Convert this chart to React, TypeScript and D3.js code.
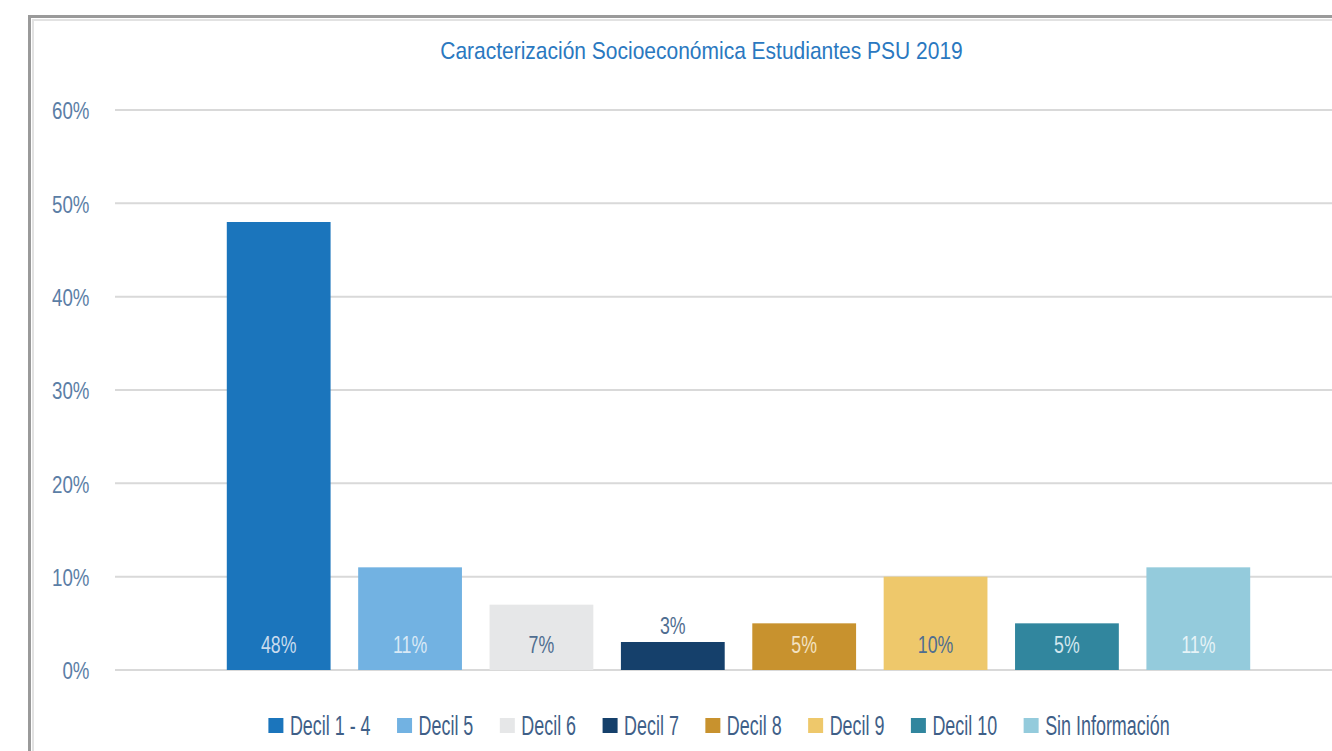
import * as d3 from 'd3';
import { useEffect, useRef } from 'react';

const categories = ['Decil 1 - 4', 'Decil 5', 'Decil 6', 'Decil 7', 'Decil 8', 'Decil 9', 'Decil 10', 'Sin Información'];
const values = [48, 11, 7, 3, 5, 10, 5, 11];
const barColors = ['#1b75bc', '#72b2e2', '#e6e7e8', '#15406b', '#c8922e', '#eec86b', '#31869e', '#94cbdc'];
const labelColors = ['#c9dcee', '#d9e9f6', '#4f6d90', '#4f6d90', '#f3e2c2', '#4f6d90', '#d3e7ee', '#e6f3f7'];
const yTicks = [0, 10, 20, 30, 40, 50, 60];
const title = 'Caracterización Socioeconómica Estudiantes PSU 2019';

const W = 1332;
const H = 751;
const FONT = '"Liberation Sans", Arial, sans-serif';

type Sel = d3.Selection<SVGGElement, unknown, null, undefined>;

// condensed text: glyphs squeezed horizontally around the anchor point
function ctext(parent: Sel, x: number, y: number, s: string, size: number, fill: string, anchor: string, sx: number) {
    const g = parent.append('g').attr('transform', `translate(${x},${y}) scale(${sx},1)`);
    const t = g.append('text').attr('dy', '0.35em').attr('text-anchor', anchor)
        .attr('font-family', FONT).attr('font-size', size).attr('fill', fill).text(s);
    return (t.node() as SVGTextElement).getComputedTextLength() * sx;
}

export default function App() {
    const ref = useRef<SVGSVGElement>(null);

    useEffect(() => {
        const svg = d3.select(ref.current);
        svg.selectAll('*').remove();
        const root = svg.append('g') as unknown as Sel;

        const x = d3.scaleBand<string>().domain(categories).range([213, 1264]).paddingInner(0.21).paddingOuter(0.105);
        const y = d3.scaleLinear().domain([0, 60]).range([670, 110]);

        // frame
        root.append('rect').attr('x', 29.5).attr('y', 16.5).attr('width', W).attr('height', H)
            .attr('fill', 'none').attr('stroke', '#9a9a9a').attr('stroke-width', 3);
        root.append('rect').attr('x', 33).attr('y', 20).attr('width', W).attr('height', H)
            .attr('fill', 'none').attr('stroke', '#e2e2e2').attr('stroke-width', 2);

        ctext(root, 701.5, 51, title, 24, '#2a78c0', 'middle', 0.875);

        // grid + y labels
        root.selectAll('line.grid').data(yTicks).join('line')
            .attr('x1', 115).attr('x2', W)
            .attr('y1', (d) => y(d)).attr('y2', (d) => y(d))
            .attr('stroke', '#d9d9d9').attr('stroke-width', 2);
        yTicks.forEach((d) => ctext(root, 89.5, y(d) + 1, `${d}%`, 24, '#5b7ea6', 'end', 0.78));

        // bars
        root.selectAll('rect.bar').data(values).join('rect')
            .attr('x', (_, i) => x(categories[i])!)
            .attr('y', (d) => y(d))
            .attr('width', x.bandwidth())
            .attr('height', (d) => y(0) - y(d))
            .attr('fill', (_, i) => barColors[i]);

        values.forEach((d, i) => {
            const cx = x(categories[i])! + x.bandwidth() / 2;
            const cy = d < 4 ? y(d) - 16 : 645;
            ctext(root, cx, cy, `${d}%`, 24, labelColors[i], 'middle', 0.74);
        });

        // legend
        const leg = root.append('g') as unknown as Sel;
        let cx = 0;
        const items: { x: number; el: Sel }[] = [];
        categories.forEach((c, i) => {
            const it = leg.append('g') as unknown as Sel;
            it.append('rect').attr('x', 0).attr('y', -7).attr('width', 15).attr('height', 15).attr('fill', barColors[i]);
            const w = ctext(it, 21.5, 0, c, 28, '#3f5f88', 'start', 0.64);
            items.push({ x: cx, el: it });
            cx += 21.5 + w + 26.5;
        });
        const total = cx - 26.5;
        const start = 719 - total / 2;
        items.forEach((d) => d.el.attr('transform', `translate(${start + d.x},725)`));
    }, []);

    return (
        <svg
            ref={ref}
            width={W}
            height={H}
            viewBox={`0 0 ${W} ${H}`}
            style={{ position: 'absolute', left: 0, top: 0, background: '#fff' }}
        />
    );
}
